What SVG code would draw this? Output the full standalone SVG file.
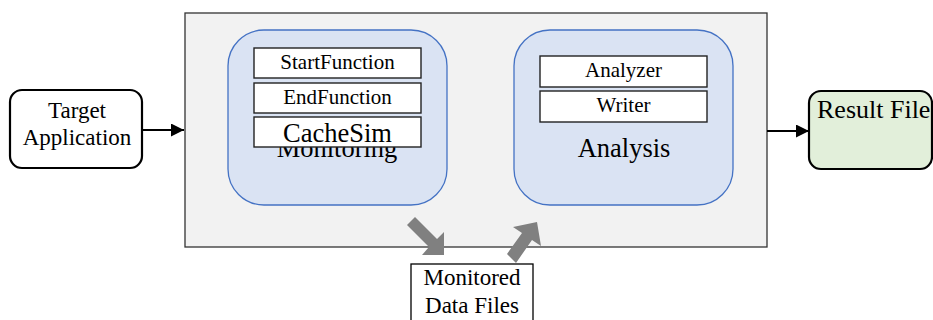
<svg xmlns="http://www.w3.org/2000/svg" width="933" height="320" viewBox="0 0 933 320">
<style>
text{font-family:'Liberation Serif','Times New Roman','DejaVu Serif',serif;fill:#000;text-anchor:middle}
.sub{fill:#dae3f3;stroke:#4472c4;stroke-width:1.3}
.comp{fill:#fff;stroke:#222;stroke-width:1.4}
.t21{font-size:21px}
.t26{font-size:26.5px}
.t23{font-size:23px}
.conn{stroke:#000;stroke-width:2;fill:none}
.block{fill:#808080}
</style>
<defs>
<marker id="ah" viewBox="0 0 10 10" refX="10" refY="5" markerWidth="13" markerHeight="13" orient="auto" markerUnits="userSpaceOnUse">
<path d="M0,0 L10,5 L0,10 z" fill="#000"/>
</marker>
</defs>
<g id="system">
<rect x="185" y="13" width="582" height="234" fill="#f2f2f2" stroke="#333" stroke-width="1.3"/>
</g>
<g id="monitoring">
<rect class="sub" x="228" y="30" width="219" height="175" rx="36"/>
<text class="t26" x="337" y="157">Monitoring</text>
<g id="startfunction"><rect class="comp" x="254" y="48" width="167" height="30"/><text class="t21" x="337.5" y="69">StartFunction</text></g>
<g id="endfunction"><rect class="comp" x="254" y="83" width="167" height="30"/><text class="t21" x="337.5" y="104">EndFunction</text></g>
<g id="cachesim"><rect class="comp" x="254" y="117" width="167" height="30"/><text class="t26" x="337.5" y="142">CacheSim</text></g>
</g>
<g id="analysis">
<rect class="sub" x="514" y="30" width="219" height="175" rx="36"/>
<text class="t26" x="624" y="157">Analysis</text>
<g id="analyzer"><rect class="comp" x="540" y="56" width="167" height="31"/><text class="t21" x="623.5" y="77">Analyzer</text></g>
<g id="writer"><rect class="comp" x="540" y="91" width="167" height="31"/><text class="t21" x="623.5" y="112">Writer</text></g>
</g>
<g id="target">
<rect x="10" y="90" width="132" height="78" rx="12" fill="#fff" stroke="#000" stroke-width="2.2"/>
<text class="t23" x="77" y="118">Target</text>
<text class="t23" x="77" y="145">Application</text>
</g>
<g id="result">
<rect x="809" y="91" width="123" height="78" rx="12" fill="#e2efda" stroke="#000" stroke-width="2.2"/>
<text x="817" y="118" style="text-anchor:start;font-size:26px">Result File</text>
</g>
<g id="datafiles">
<rect x="411" y="264" width="122" height="60" fill="#fff" stroke="#000" stroke-width="1.3"/>
<text class="t23" x="472" y="285">Monitored</text>
<text class="t23" x="472" y="313">Data Files</text>
</g>
<g id="connectors">
<line class="conn" x1="142" y1="130" x2="184" y2="130" marker-end="url(#ah)"/>
<line class="conn" x1="767" y1="131" x2="809" y2="131" marker-end="url(#ah)"/>
<polygon class="block" points="415,217 437,239 444,232 444,255 422,255 429,247 407,225"/>
<polygon class="block" points="507,254 522,233 513,227 537,222 541,246 532,240 516,263"/>
</g>
</svg>
